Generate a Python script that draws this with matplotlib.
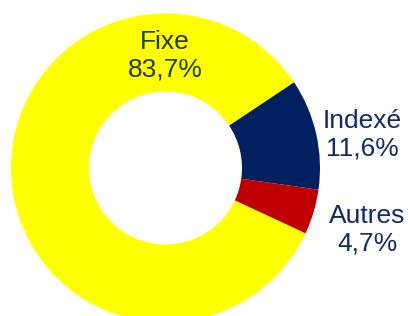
import matplotlib
matplotlib.use('Agg')
from matplotlib import pyplot as plt

# données
labels = ['Fixe', 'Indexé', 'Autres']
values = [83.7, 11.6, 4.7]
colors = ['#FFFF00', '#002060', '#C00000']
text_colors = ['#1E3C00', '#0F2A6B', '#0F2A6B']

plt.rcParams['font.family'] = ['Liberation Sans', 'DejaVu Sans']

fig = plt.figure(figsize=(4.08, 3.16), dpi=100)
ax = fig.add_axes([0, 0, 1, 1])
ax.set_xlim(0, 408)
ax.set_ylim(0, 316)
ax.set_aspect('equal')
ax.axis('off')

cx, cy, r = 165.5, 148, 154.5
ax.pie(values, colors=colors, startangle=335, counterclock=False,
       center=(cx, cy), radius=r, frame=True,
       wedgeprops=dict(width=r * 0.505, linewidth=0))
ax.set_xlim(0, 408)
ax.set_ylim(0, 316)
ax.axis('off')

# étiquettes
pos = [(165, 260), (362, 181), (367, 86)]
for lab, v, c, (x, y) in zip(labels, values, text_colors, pos):
  txt = lab + '\n' + ('%.1f%%' % v).replace('.', ',')
  ax.text(x, y, txt, ha='center', va='center', fontsize=19, color=c,
          linespacing=1.2)

fig.savefig('out.png', dpi=100)
